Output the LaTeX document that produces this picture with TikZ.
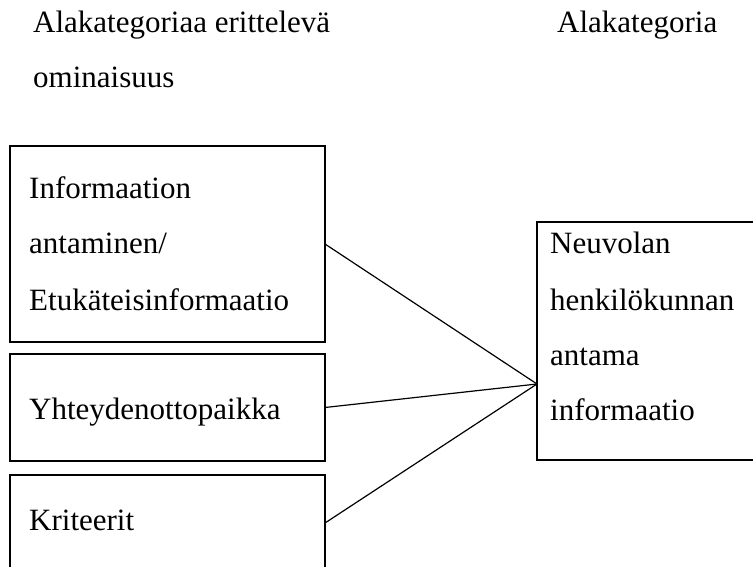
\documentclass[tikz,border=0pt]{standalone}
\usepackage{fontspec}
\setmainfont{Liberation Serif}
\begin{document}
\begin{tikzpicture}[x=1pt,y=-1pt,
  frame/.style={draw=black, line width=1.2pt, rectangle, inner sep=0pt, outer sep=0pt, anchor=north west},
  txt/.style={anchor=base west, inner sep=0pt, font=\fontsize{31}{37}\selectfont},
  link/.style={draw=black, line width=1.2pt}]
\useasboundingbox (0,0) rectangle (753,567);
\begin{scope}
\clip (0,0) rectangle (753,567);

% column headings
\node[txt] (h1a) at (33,33) {Alakategoriaa erittelevä};
\node[txt] (h1b) at (33,88) {ominaisuus};
\node[txt] (h2) at (557,33) {Alakategoria};

% left-hand boxes
\node[frame, minimum width=315pt, minimum height=196pt] (b1) at (10,146) {};
\node[frame, minimum width=315pt, minimum height=107pt] (b2) at (10,354) {};
\node[frame, minimum width=315pt, minimum height=96pt] (b3) at (10,475) {};

\node[txt] (t1a) at (29,199) {Informaation};
\node[txt] (t1b) at (29,253) {antaminen/};
\node[txt] (t1c) at (29,310) {Etukäteisinformaatio};
\node[txt] (t2) at (29,419) {Yhteydenottopaikka};
\node[txt] (t3) at (29,530) {Kriteerit};

% right-hand box, open on the right where it runs past the margin
\node[frame, draw=none, minimum width=240pt, minimum height=238pt] (rb) at (537,222) {};
\draw[link] (rb.north east) -- (rb.north west) -- (rb.south west) -- (rb.south east);
\node[txt] (r1) at (550,253) {Neuvolan};
\node[txt] (r2) at (550,310) {henkilökunnan};
\node[txt] (r3) at (550,365) {antama};
\node[txt] (r4) at (550,420) {informaatio};

% connectors meeting on the left side of the right box
\coordinate (hub) at ([yshift=-43pt]rb.west);
\draw[link] (b1.east) -- (hub);
\draw[link] (b2.east) -- (hub);
\draw[link] (b3.east) -- (hub);
\end{scope}
\end{tikzpicture}
\end{document}
